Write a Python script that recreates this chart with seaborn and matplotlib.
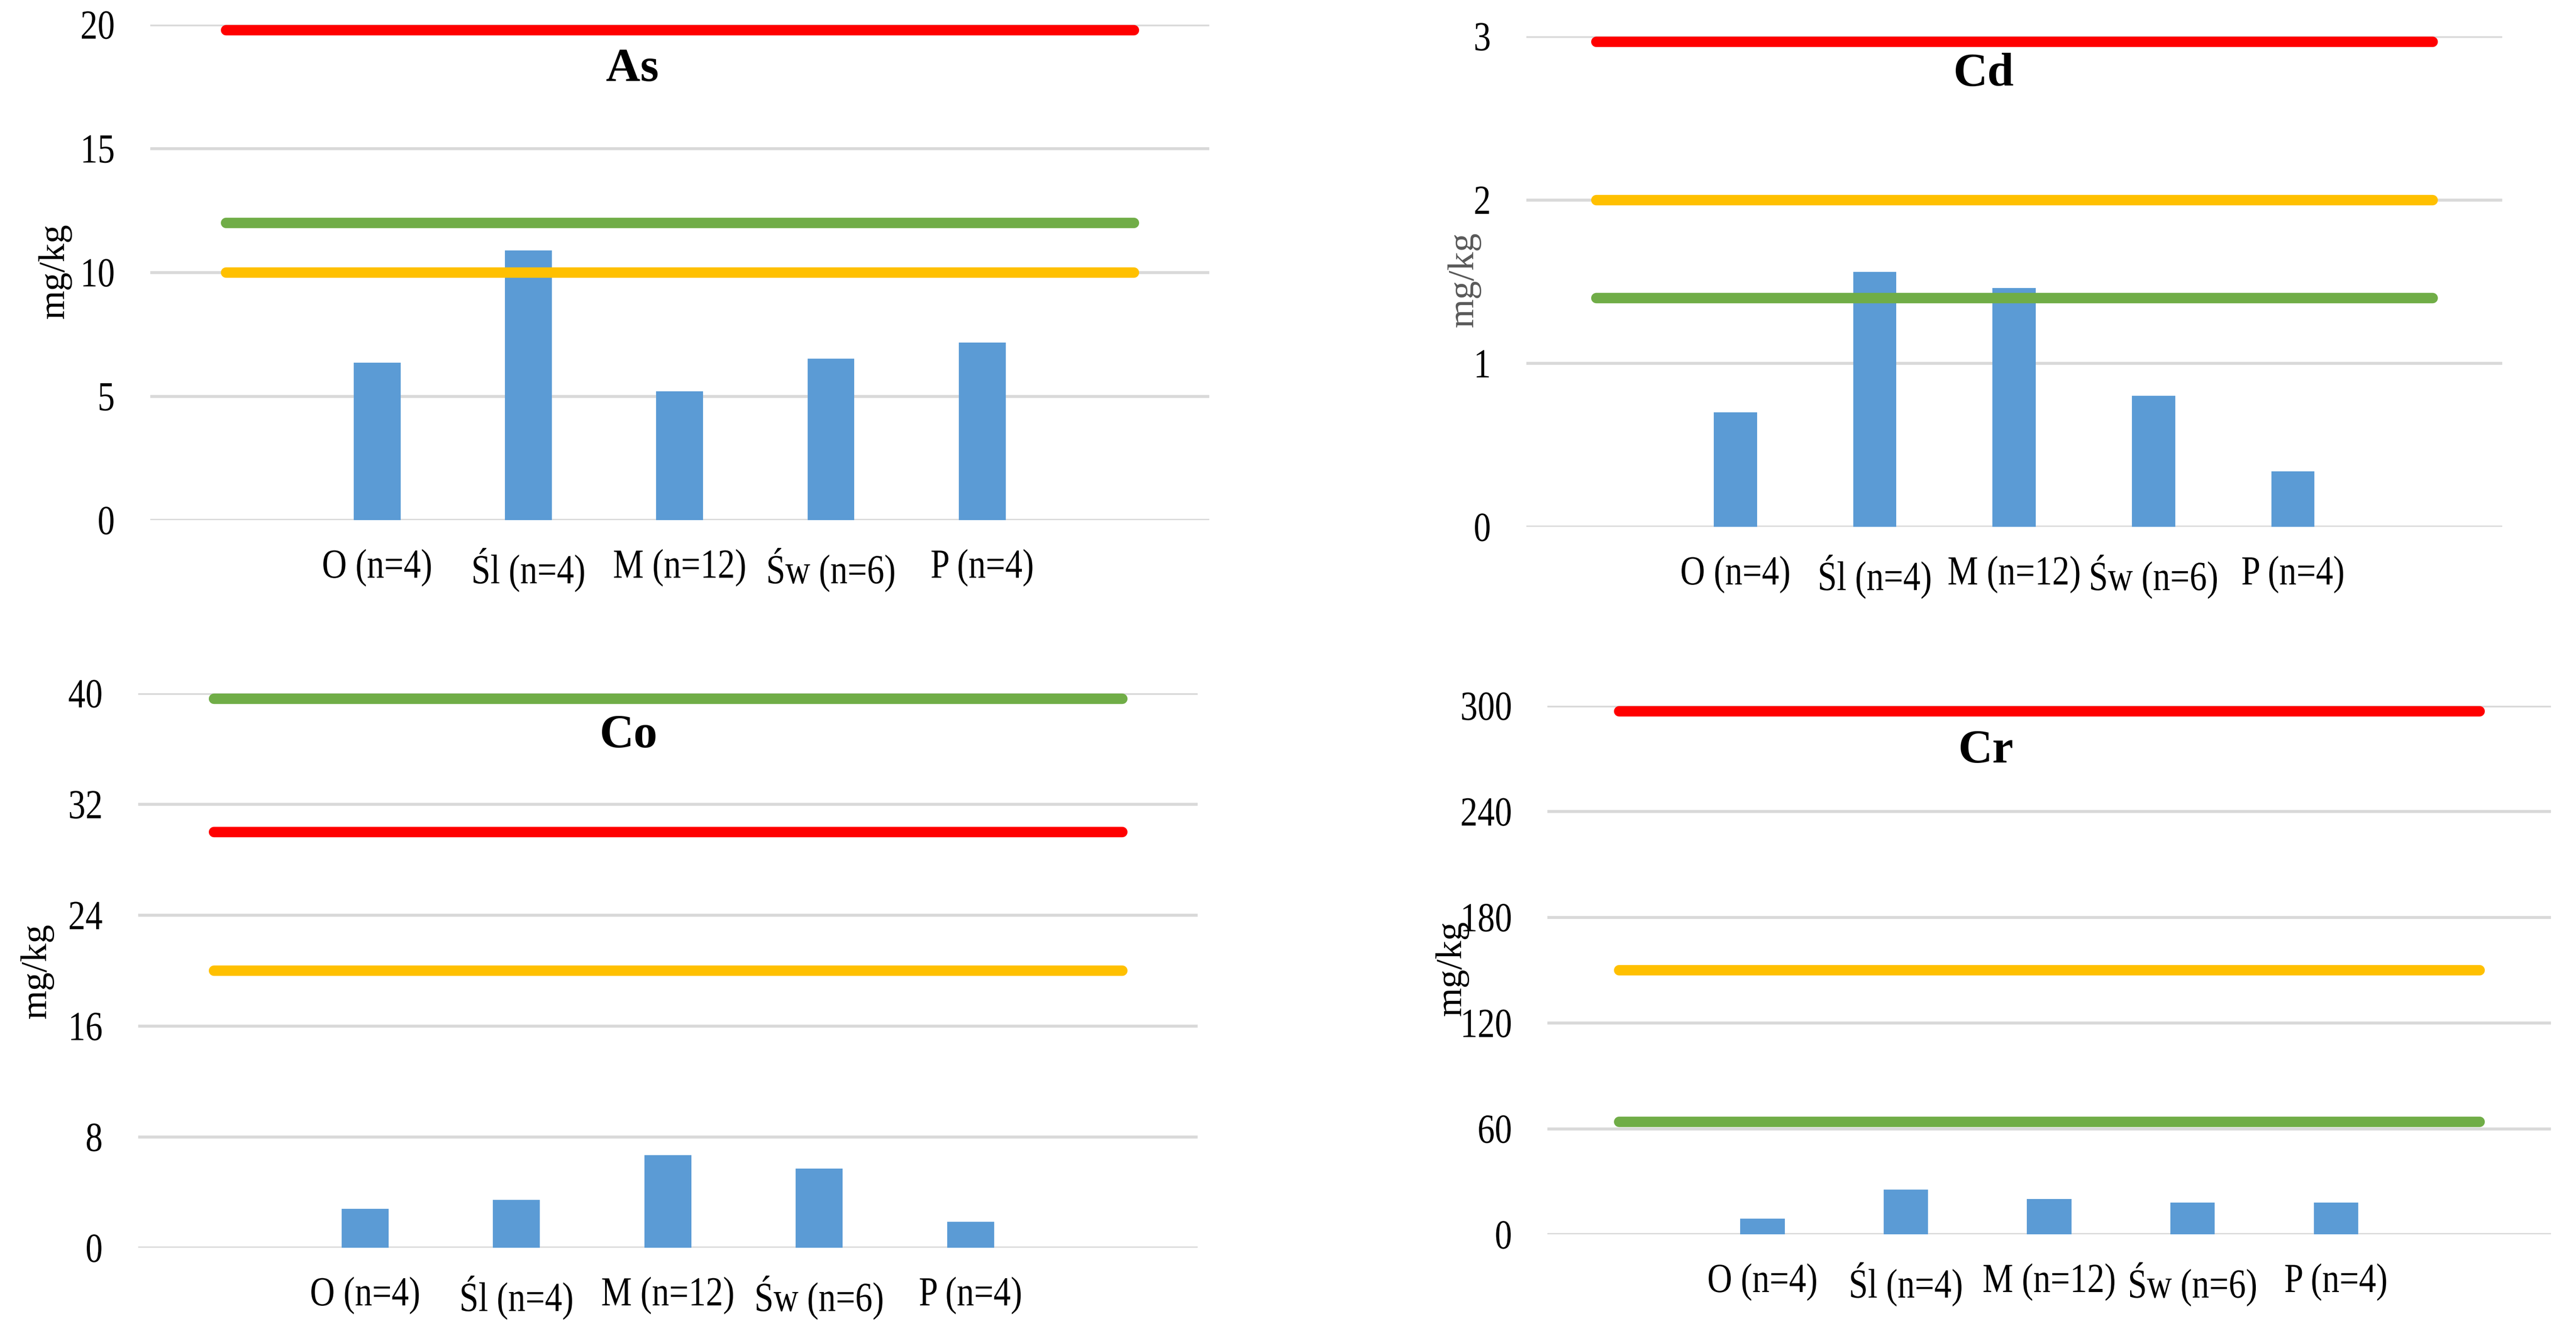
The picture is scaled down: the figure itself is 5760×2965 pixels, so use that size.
import matplotlib
matplotlib.use("Agg")
import matplotlib.pyplot as plt
import matplotlib.transforms as mtransforms
import matplotlib.patheffects as patheffects
import seaborn as sns
import pandas as pd

# --- DATOS ---
kategorie = ["O (n=4)", "Śl (n=4)", "M (n=12)", "Św (n=6)", "P (n=4)"]

as_wartosci = [6.35, 10.89, 5.19, 6.52, 7.16]
cd_wartosci = [0.70, 1.56, 1.46, 0.80, 0.34]
co_wartosci = [2.82, 3.44, 6.69, 5.71, 1.87]
cr_wartosci = [8.9, 25.4, 20.1, 18.1, 18.1]

# progi (wartość, kolor)
as_progi = [(20, "#FF0000"), (12, "#70AD47"), (10, "#FFC000")]
cd_progi = [(3, "#FF0000"), (2, "#FFC000"), (1.4, "#70AD47")]
co_progi = [(40, "#70AD47"), (30, "#FF0000"), (20, "#FFC000")]
cr_progi = [(300, "#FF0000"), (150, "#FFC000"), (64, "#70AD47")]

as_ticks = [0, 5, 10, 15, 20]
cd_ticks = [0, 1, 2, 3]
co_ticks = [0, 8, 16, 24, 32, 40]
cr_ticks = [0, 60, 120, 180, 240, 300]


# --- rozciągnięcie tekstu w pionie (wąska czcionka jak w Excelu) ---
class Rozciagniecie(patheffects.AbstractPathEffect):
    def __init__(self, sy):
        super().__init__()
        self.sy = sy

    def draw_path(self, renderer, gc, tpath, affine, rgbFace=None):
        skala = mtransforms.Affine2D().translate(0, -33).scale(1, self.sy).translate(0, 33)
        renderer.draw_path(gc, tpath, skala + affine, rgbFace)


# --- STYL ---
sns.set_theme(style="white")
plt.rcParams["font.family"] = ["Liberation Serif", "DejaVu Serif"]

KOLOR_SLUPKA = "#5B9BD5"
KOLOR_SIATKI = "#D9D9D9"
GRUBOSC_LINII = 5.6
LINIA_OD, LINIA_DO = 0, 6
kolejnosc = [" "] + kategorie + ["  "]

fig = plt.figure(figsize=(19.2, 2965 / 300), dpi=300)

panele = [
    # nazwa, wartosci, progi, ticks, rect, tytul(x, y), ylabel(x, y, kolor)
    ("As", as_wartosci, as_progi, as_ticks, [0.0583, 0.6078, 0.4111, 0.3737],
     (0.2455, 0.9390), (0.0212, 0.7956, "black")),
    ("Cd", cd_wartosci, cd_progi, cd_ticks, [0.5925, 0.6027, 0.3788, 0.3700],
     (0.7700, 0.9352), (0.5683, 0.7892, "#595959")),
    ("Co", co_wartosci, co_progi, co_ticks, [0.0536, 0.0590, 0.4113, 0.4182],
     (0.2440, 0.4365), (0.0144, 0.2675, "black")),
    ("Cr", cr_wartosci, cr_progi, cr_ticks, [0.6007, 0.0691, 0.3896, 0.3987],
     (0.7710, 0.4248), (0.5637, 0.2698, "black")),
]

for nazwa, wartosci, progi, ticks, rect, tytul, ylab in panele:
    ax = fig.add_axes(rect)
    df = pd.DataFrame({"kat": kategorie, "val": wartosci})
    sns.barplot(data=df, x="kat", y="val", order=kolejnosc, color=KOLOR_SLUPKA,
                saturation=1, width=0.31, linewidth=0, ax=ax, zorder=2)

    ymax = ticks[-1]
    for v, kol in progi:
        tr = ax.transData
        if v >= ymax:
            # linia na górnej krawędzi - przesunięta w dół jak w Excelu
            tr = mtransforms.offset_copy(ax.transData, fig=fig, y=-GRUBOSC_LINII / 2, units="points")
        ax.plot([LINIA_OD, LINIA_DO], [v, v], color=kol, lw=GRUBOSC_LINII,
                solid_capstyle="round", transform=tr, zorder=3)

    ax.set_xlim(-0.5, 6.5)
    ax.set_ylim(0, ymax)
    ax.set_yticks(ticks)
    ax.set_yticklabels([str(t) for t in ticks])
    ax.yaxis.grid(True, color=KOLOR_SIATKI, lw=1.6, zorder=0)
    ax.set_axisbelow(True)
    ax.xaxis.grid(False)
    for s in ax.spines.values():
        s.set_visible(False)
    ax.tick_params(axis="y", length=0, pad=19, labelsize=18.5, labelcolor="black")
    ax.tick_params(axis="x", length=0, pad=17, labelsize=18.5, labelcolor="black")
    for t in ax.get_xticklabels() + ax.get_yticklabels():
        t.set_path_effects([Rozciagniecie(1.2)])
    ax.set_xlabel("")
    ax.set_ylabel("")

    fig.text(tytul[0], tytul[1], nazwa, ha="center", va="baseline",
             fontsize=25.5, fontweight="bold", color="black")
    fig.text(ylab[0], ylab[1], "mg/kg", ha="center", va="center", rotation=90,
             fontsize=20, color=ylab[2])

fig.savefig("out.png", dpi=300, facecolor="white")
